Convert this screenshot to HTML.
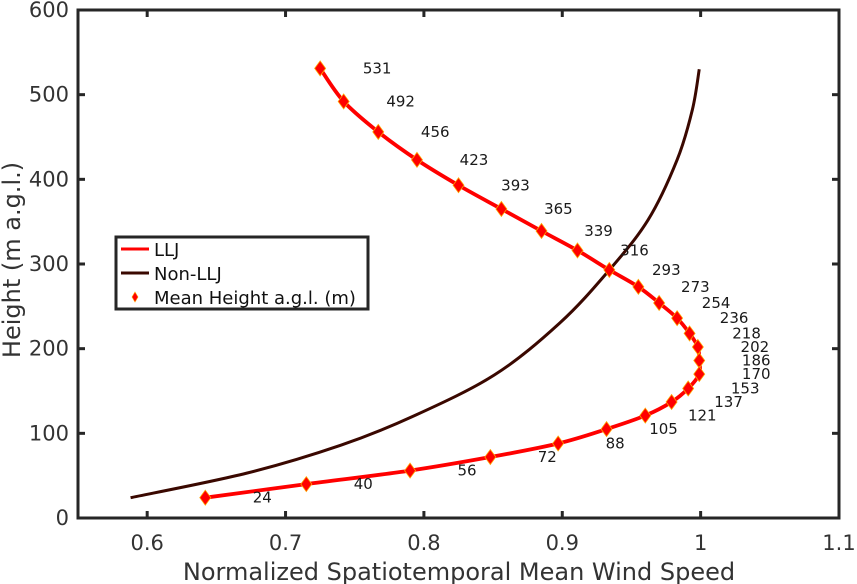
<!DOCTYPE html>
<html><head><meta charset="utf-8"><style>
body{margin:0;background:#fff;}
svg{display:block;font-family:"DejaVu Sans","Liberation Sans",sans-serif;}
</style></head><body>
<svg id="chart" width="857" height="584" viewBox="0 0 857 584" xmlns="http://www.w3.org/2000/svg" style="position:absolute;left:0;top:0">
<g id="plot"></g>
</svg>
<script>
const lljHeights=[531,492,456,423,393,365,339,316,293,273,254,236,218,202,186,170,153,137,121,105,88,72,56,40,24];
const lljSpeeds=[0.725,0.742,0.767,0.795,0.825,0.856,0.885,0.911,0.934,0.955,0.970,0.983,0.992,0.998,0.999,0.999,0.991,0.979,0.960,0.932,0.897,0.848,0.790,0.715,0.642];
const nonHeights=[24,53,86,120,169,230,291,352,423,482,530];
const nonSpeeds=[0.588,0.672,0.740,0.792,0.851,0.898,0.933,0.962,0.983,0.994,0.999];
const xTicks=[0.6,0.7,0.8,0.9,1,1.1];
const xTickLabels=["0.6","0.7","0.8","0.9","1","1.1"];
const yTicks=[0,100,200,300,400,500,600];
const yTickLabels=["0","100","200","300","400","500","600"];

const NS="http://www.w3.org/2000/svg";
const L=78,R=839,T=10,B=518;
const xMin=0.55,xMax=1.1,yMin=0,yMax=600;
function sx(v){return L+(v-xMin)/(xMax-xMin)*(R-L);}
function sy(v){return B-(v-yMin)/(yMax-yMin)*(B-T);}
const g=document.getElementById('plot');
function mk(tag,attrs,parent){const e=document.createElementNS(NS,tag);for(const k in attrs)e.setAttribute(k,attrs[k]);(parent||g).appendChild(e);return e;}

function smoothPath(xs,ys){
  const p=xs.map((x,i)=>[sx(x),sy(ys[i])]);
  let d=`M${p[0][0]},${p[0][1]}`;
  for(let i=0;i<p.length-1;i++){
    const p0=p[Math.max(i-1,0)],p1=p[i],p2=p[i+1],p3=p[Math.min(i+2,p.length-1)];
    const c1=[p1[0]+(p2[0]-p0[0])/6,p1[1]+(p2[1]-p0[1])/6];
    const c2=[p2[0]-(p3[0]-p1[0])/6,p2[1]-(p3[1]-p1[1])/6];
    d+=` C${c1[0]},${c1[1]} ${c2[0]},${c2[1]} ${p2[0]},${p2[1]}`;
  }
  return d;
}
let e=mk('path',{d:smoothPath(nonSpeeds,nonHeights),fill:'none',stroke:'#3a0800','stroke-width':3});


e=mk('path',{d:smoothPath(lljSpeeds,lljHeights),fill:'none',stroke:'#ff0000','stroke-width':3.8,'stroke-linejoin':'round'});



lljSpeeds.forEach((v,i)=>{
  const x=sx(v),y=sy(lljHeights[i]);
  const m=mk('path',{d:`M${x},${y-7.5} L${x+5.5},${y} L${x},${y+7.5} L${x-5.5},${y} Z`,fill:'#ff0000',stroke:'#ffa500','stroke-width':0.8});
  
  
  const t=mk('text',{x:x+57,y:y+5,'font-size':15,fill:'#1a1a1a','text-anchor':'middle'});
  t.textContent=String(lljHeights[i]);
  
  
});

e=mk('rect',{x:L,y:T,width:R-L,height:B-T,fill:'none',stroke:'#262626','stroke-width':3});


xTicks.forEach((v,i)=>{
  const x=sx(v);
  mk('line',{x1:x,y1:B,x2:x,y2:B-7,stroke:'#262626','stroke-width':3});
  mk('line',{x1:x,y1:T,x2:x,y2:T+7,stroke:'#262626','stroke-width':3});
  const t=mk('text',{x:x,y:B+32,'font-size':21,fill:'#333','text-anchor':'middle'});
  t.textContent=xTickLabels[i];
  
  
});
yTicks.forEach((v,i)=>{
  const y=sy(v);
  mk('line',{x1:L,y1:y,x2:L+7,y2:y,stroke:'#262626','stroke-width':3});
  mk('line',{x1:R,y1:y,x2:R-7,y2:y,stroke:'#262626','stroke-width':3});
  const t=mk('text',{x:L-9,y:y+7,'font-size':21,fill:'#333','text-anchor':'end'});
  t.textContent=yTickLabels[i];
  
  
});
</script>
<svg style="position:absolute;left:0;top:0" width="857" height="584" xmlns="http://www.w3.org/2000/svg">
<text x="459" y="580" font-size="24" fill="#333" text-anchor="middle" font-family="DejaVu Sans, sans-serif">Normalized Spatiotemporal Mean Wind Speed</text>
<text transform="translate(20,260) rotate(-90)" font-size="24" fill="#333" text-anchor="middle" font-family="DejaVu Sans, sans-serif">Height (m a.g.l.)</text>
<g font-family="DejaVu Sans, sans-serif" font-size="18" fill="#111">
<rect x="116" y="237" width="252" height="72" fill="#fff" stroke="#262626" stroke-width="3"/>
<line x1="121" y1="249" x2="149" y2="249" stroke="#ff0000" stroke-width="3"/>
<text x="154" y="256">LLJ</text>
<line x1="121" y1="273" x2="149" y2="273" stroke="#3a0800" stroke-width="3"/>
<text x="154" y="280">Non-LLJ</text>
<path d="M135,292 L138,297 L135,302 L132,297 Z" fill="#ff0000" stroke="#ffa500" stroke-width="0.6"/>
<text x="154" y="304">Mean Height a.g.l. (m)</text>
</g>
</svg>
</body></html>
